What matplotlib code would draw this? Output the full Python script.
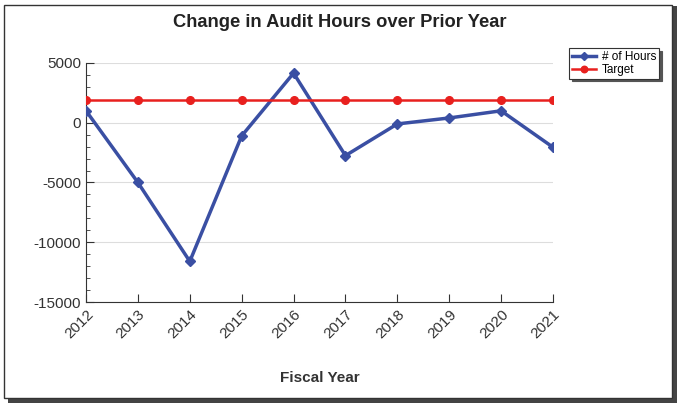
import matplotlib.pyplot as plt
from matplotlib.patches import Rectangle
from matplotlib.ticker import MultipleLocator

plt.rcParams['font.family'] = ['Liberation Sans', 'DejaVu Sans']
plt.rcParams['axes.unicode_minus'] = False

years = ['2012', '2013', '2014', '2015', '2016', '2017', '2018', '2019', '2020', '2021']
hours = [1000, -5000, -11600, -1100, 4150, -2750, -100, 400, 1000, -2050]
target = [1900] * len(years)

fig = plt.figure(figsize=(6.79, 4.03), dpi=100)

# outer frame with shadow
fig.patches.append(Rectangle((0.012, 0.0), 0.985, 0.985, transform=fig.transFigure,
                             facecolor='#444444', edgecolor='none', zorder=-2))
fig.patches.append(Rectangle((0.006, 0.012), 0.984, 0.975, transform=fig.transFigure,
                             facecolor='white', edgecolor='#333333', lw=1.0, zorder=-1))

ax = fig.add_axes([0.1267, 0.2506, 0.6877, 0.5931])
x = list(range(len(years)))
ax.plot(x, hours, color='#3a4fa3', lw=2.5, marker='D', ms=5, label='# of Hours', zorder=3)
ax.plot(x, target, color='#e8201e', lw=1.8, marker='o', ms=5.5, label='Target', zorder=3)

ax.set_xlim(0, len(years) - 1)
ax.set_ylim(-15000, 5000)
ax.yaxis.set_major_locator(MultipleLocator(5000))
ax.yaxis.set_minor_locator(MultipleLocator(1000))
ax.set_xticks(x)
ax.set_xticklabels(years, rotation=45, ha='right', rotation_mode='anchor', fontsize=11, color='#333333')
ax.tick_params(axis='y', labelsize=11, labelcolor='#333333')
ax.tick_params(axis='both', which='major', direction='in', length=6, color='#333333')
ax.tick_params(axis='y', which='minor', direction='in', length=3, color='#333333')
ax.grid(axis='y', which='major', color='#dddddd', lw=0.8)
ax.set_axisbelow(True)
for s in ['top', 'right']:
    ax.spines[s].set_visible(False)
for s in ['left', 'bottom']:
    ax.spines[s].set_color('#333333')

ax.set_xlabel('Fiscal Year', fontsize=11, fontweight='bold', color='#333333', labelpad=22)
fig.text(0.5, 0.943, 'Change in Audit Hours over Prior Year', ha='center', va='center',
         fontsize=13.2, fontweight='bold', color='#222222')

leg = fig.legend(loc='upper left', bbox_to_anchor=(0.83, 0.895), fontsize=8.5, frameon=True,
                 fancybox=False, shadow={'color': '#555555', 'alpha': 1.0}, borderpad=0.25,
                 labelspacing=0.05, handlelength=2.0, handletextpad=0.5, markerscale=0.85)
leg.get_frame().set_edgecolor('#333333')
leg.get_frame().set_linewidth(0.8)

fig.savefig('out.png', dpi=100)
